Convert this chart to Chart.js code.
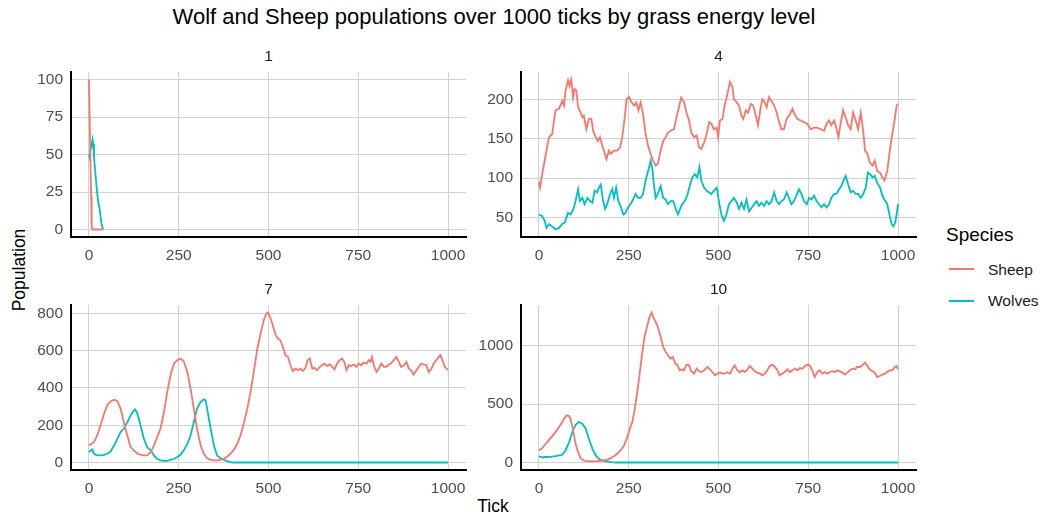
<!DOCTYPE html>
<html>
<head>
<meta charset="utf-8">
<script src="https://cdn.jsdelivr.net/npm/chart.js@4.4.1/dist/chart.umd.min.js"></script>
<style>
  body { margin: 0; background: #fff; font-family: "Liberation Sans", Arial, sans-serif; }
  #wrap { position: relative; width: 1045px; height: 518px; overflow: hidden; background: #fff; }
  #wrap canvas { position: absolute; }
  .txt { position: absolute; white-space: nowrap; line-height: 1; }
</style>
</head>
<body>
<div id="wrap">
  <div class="txt" style="left:494px;top:6px;font-size:22px;color:#000;transform:translateX(-50%)">Wolf and Sheep populations over 1000 ticks by grass energy level</div>
  <div class="txt" style="left:493px;top:498px;font-size:17.5px;color:#000;transform:translateX(-50%)">Tick</div>
  <div class="txt" style="left:20px;top:270px;font-size:17.5px;color:#000;transform:translate(-50%,-50%) rotate(-90deg)">Population</div>
  <div id="legend"></div>
</div>

<script>
// ===== DATA =====
const xTicks = [0, 250, 500, 750, 1000];
const energyLevels = ['1', '4', '7', '10'];
const speciesNames = ['Sheep', 'Wolves'];

// grass energy 1
const g1SheepT = [0, 2, 4, 6, 7, 8, 10, 39];
const g1SheepP = [100, 74, 48, 22, 8, 2, 0, 0];
const g1WolvesT = [0, 2, 4, 7, 10, 12, 14, 17, 20, 23, 26, 29, 32, 35, 38, 40];
const g1WolvesP = [50, 48, 53, 55, 60, 57, 48, 40, 32, 24, 18, 15, 9, 4, 1, 0];
const g1YTicks = [0, 25, 50, 75, 100];

// grass energy 4
const g4SheepT = [0, 3, 9, 19, 28, 37, 42, 46, 56, 65, 70, 74, 81, 85, 90, 95, 99, 104, 109, 116,
  121, 125, 132, 139, 146, 151, 158, 164, 170, 175, 181, 188, 195, 200, 209, 218, 226, 232, 239, 244,
  251, 258, 265, 271, 277, 283, 290, 297, 305, 311, 318, 325, 331, 339, 346, 353, 360, 367, 376, 383,
  390, 396, 404, 411, 418, 424, 432, 439, 446, 452, 460, 467, 474, 480, 487, 495, 499, 504, 511, 517,
  525, 532, 539, 543, 551, 557, 564, 569, 576, 582, 590, 597, 604, 610, 616, 622, 629, 634, 641, 647,
  655, 662, 669, 675, 682, 690, 699, 706, 712, 720, 729, 738, 747, 757, 766, 775, 785, 794, 801, 808,
  814, 822, 828, 834, 840, 847, 854, 861, 868, 875, 882, 889, 896, 903, 908, 915, 921, 929, 935, 942,
  950, 956, 962, 970, 977, 984, 991, 996, 1000];
const g4SheepP = [95, 88, 105, 130, 152, 156, 173, 186, 188, 198, 192, 211, 224, 217, 225, 202, 213, 211, 190, 183,
  177, 179, 162, 175, 175, 160, 152, 147, 152, 143, 135, 124, 135, 131, 135, 135, 139, 152, 177, 200,
  203, 196, 192, 196, 186, 196, 181, 156, 139, 131, 122, 116, 118, 135, 147, 152, 158, 160, 162, 177,
  190, 202, 196, 183, 173, 158, 152, 154, 139, 137, 145, 156, 171, 169, 162, 164, 152, 173, 175, 192,
  207, 222, 215, 200, 196, 192, 179, 175, 186, 183, 194, 192, 179, 167, 186, 200, 196, 190, 203, 198,
  192, 183, 171, 162, 162, 175, 181, 188, 181, 175, 173, 171, 169, 162, 164, 164, 162, 160, 169, 173,
  167, 173, 164, 152, 169, 186, 177, 167, 162, 183, 173, 162, 183, 160, 135, 131, 120, 116, 122, 109,
  107, 101, 97, 109, 135, 156, 175, 192, 194];
const g4WolvesT = [0, 9, 16, 21, 28, 37, 46, 56, 65, 72, 81, 88, 96, 102, 109, 114, 121, 127, 135, 142,
  149, 155, 162, 167, 172, 178, 184, 190, 198, 204, 209, 215, 221, 227, 235, 241, 248, 255, 262, 269,
  276, 283, 290, 297, 304, 311, 316, 320, 325, 331, 339, 346, 353, 359, 367, 374, 381, 387, 393, 399,
  406, 413, 421, 427, 434, 441, 447, 452, 460, 467, 474, 480, 487, 495, 501, 508, 515, 522, 529, 536,
  543, 551, 557, 564, 571, 578, 585, 593, 599, 606, 613, 620, 627, 634, 641, 648, 655, 662, 669, 675,
  682, 690, 696, 703, 710, 717, 724, 731, 738, 746, 752, 759, 766, 773, 780, 787, 794, 801, 808, 814,
  822, 829, 836, 842, 848, 854, 861, 868, 875, 882, 889, 896, 903, 910, 916, 922, 929, 935, 942, 950,
  956, 962, 970, 977, 982, 987, 992, 996, 1000];
const g4WolvesP = [54, 52, 46, 37, 42, 39, 35, 37, 42, 44, 56, 54, 61, 71, 86, 71, 75, 67, 75, 71,
  69, 84, 82, 88, 92, 73, 61, 67, 80, 86, 75, 88, 71, 65, 54, 56, 63, 67, 73, 80,
  75, 75, 80, 97, 109, 122, 111, 92, 75, 80, 90, 75, 73, 67, 71, 71, 61, 54, 61, 67,
  71, 78, 92, 101, 105, 101, 114, 97, 88, 84, 82, 80, 84, 88, 71, 54, 46, 54, 67, 71,
  75, 69, 61, 69, 61, 73, 58, 63, 67, 71, 65, 69, 65, 71, 67, 71, 82, 71, 67, 71,
  73, 82, 75, 67, 71, 78, 86, 80, 71, 67, 75, 73, 78, 71, 67, 63, 67, 63, 67, 75,
  80, 80, 86, 90, 97, 103, 92, 82, 84, 80, 80, 75, 80, 88, 107, 105, 101, 103, 94, 88,
  78, 73, 67, 52, 42, 39, 44, 54, 67];
const g4YTicks = [50, 100, 150, 200];

// grass energy 7
const g7SheepT = [0, 14, 23, 32, 42, 51, 60, 70, 79, 88, 97, 107, 116, 125, 135, 144, 153, 162, 172, 181,
  190, 199, 209, 218, 227, 237, 246, 255, 264, 274, 283, 292, 301, 311, 320, 329, 339, 348, 357, 366,
  376, 385, 394, 404, 413, 422, 431, 441, 450, 459, 469, 478, 487, 494, 499, 506, 513, 520, 526, 533,
  540, 547, 554, 561, 568, 575, 583, 589, 596, 603, 609, 615, 622, 628, 635, 643, 649, 656, 663, 671,
  677, 684, 691, 698, 705, 711, 717, 724, 730, 737, 745, 751, 758, 765, 773, 779, 784, 788, 793, 801,
  807, 814, 821, 828, 835, 841, 849, 856, 863, 869, 877, 884, 891, 897, 904, 912, 918, 925, 932, 940,
  946, 953, 960, 967, 974, 979, 986, 991, 996, 1000];
const g7SheepP = [91, 109, 145, 199, 262, 307, 328, 337, 330, 289, 217, 145, 83, 65, 47, 41, 38, 38, 56, 91,
  136, 181, 271, 378, 468, 531, 549, 558, 543, 486, 396, 289, 181, 91, 47, 23, 14, 11, 11, 14,
  20, 32, 47, 70, 100, 145, 208, 289, 378, 486, 612, 692, 764, 800, 805, 773, 728, 683, 665, 656,
  621, 576, 567, 522, 490, 504, 495, 504, 491, 508, 549, 558, 504, 508, 495, 513, 522, 531, 518, 526,
  513, 500, 531, 549, 558, 540, 495, 522, 518, 526, 513, 531, 522, 536, 531, 549, 540, 567, 522, 486,
  504, 531, 513, 513, 526, 531, 549, 567, 540, 513, 522, 540, 504, 495, 472, 495, 513, 531, 526, 522,
  486, 500, 531, 549, 567, 576, 540, 513, 504, 495];
const g7WolvesT = [0, 5, 9, 14, 23, 32, 42, 51, 60, 70, 79, 88, 97, 107, 116, 123, 128, 133, 139, 146,
  153, 162, 172, 181, 190, 199, 209, 218, 227, 237, 246, 255, 264, 274, 283, 292, 301, 311, 320, 325,
  329, 339, 348, 357, 366, 376, 385, 394, 404, 1000];
const g7WolvesP = [56, 65, 70, 47, 38, 38, 41, 47, 59, 91, 127, 163, 181, 217, 253, 274, 285, 271, 235, 181,
  127, 83, 65, 38, 20, 11, 9, 9, 14, 20, 29, 41, 65, 100, 145, 217, 289, 325, 339, 334,
  289, 181, 91, 38, 23, 14, 7, 2, 0, 0];
const g7YTicks = [0, 200, 400, 600, 800];

// grass energy 10
const g10SheepT = [0, 9, 19, 28, 37, 46, 56, 65, 71, 77, 84, 88, 96, 102, 109, 116, 125, 135, 149, 162,
  176, 190, 200, 209, 218, 227, 237, 246, 253, 260, 266, 274, 281, 288, 294, 302, 308, 314, 318, 325,
  331, 339, 346, 353, 359, 367, 373, 380, 385, 392, 398, 404, 411, 418, 424, 432, 439, 446, 452, 460,
  469, 476, 483, 490, 497, 504, 511, 518, 525, 532, 539, 545, 552, 560, 566, 573, 580, 588, 594, 601,
  608, 616, 622, 629, 636, 643, 650, 657, 664, 670, 678, 684, 692, 699, 706, 713, 720, 727, 734, 741,
  747, 754, 761, 768, 775, 782, 789, 796, 803, 811, 817, 825, 831, 838, 845, 852, 859, 866, 873, 880,
  886, 894, 901, 908, 915, 921, 929, 935, 942, 949, 956, 964, 970, 978, 984, 991, 996, 1000];
const g10SheepP = [103, 123, 160, 194, 226, 260, 303, 346, 380, 403, 397, 374, 260, 160, 89, 37, 17, 11, 9, 11,
  17, 23, 37, 54, 74, 103, 146, 217, 289, 346, 446, 603, 774, 946, 1074, 1174, 1246, 1283, 1246, 1203,
  1160, 1074, 989, 946, 917, 889, 903, 846, 837, 789, 797, 789, 837, 831, 780, 760, 803, 780, 774, 789,
  817, 797, 774, 746, 760, 769, 760, 760, 774, 760, 803, 831, 789, 769, 789, 774, 797, 826, 803, 780,
  769, 760, 746, 760, 789, 826, 837, 817, 789, 746, 760, 774, 797, 774, 789, 803, 789, 809, 803, 826,
  837, 831, 789, 731, 774, 789, 760, 774, 760, 774, 780, 774, 789, 780, 769, 751, 769, 789, 803, 797,
  817, 817, 831, 854, 826, 797, 780, 769, 731, 740, 751, 760, 774, 789, 789, 817, 826, 797];
const g10WolvesT = [0, 9, 19, 28, 37, 46, 56, 65, 74, 84, 93, 102, 111, 121, 130, 139, 149, 158, 167, 176,
  186, 200, 214, 1000];
const g10WolvesP = [54, 43, 49, 46, 51, 54, 60, 66, 103, 174, 260, 323, 346, 331, 289, 203, 117, 60, 31, 17,
  9, 3, 0, 0];
const g10YTicks = [0, 500, 1000];

// ===== STYLE / LAYOUT =====
const COLORS = { Sheep: '#F8766D', Wolves: '#00BFC4' };
const GRID = '#d2d2d2';
const FONT = '"Liberation Sans", Arial, sans-serif';
const AREA_W = 395, AREA_H = 165;
// top padding must exceed the y axis' own label padding (half label height + tick padding)
const Y_AXIS_W = 45, X_AXIS_H = 35, PAD_T = 20, PAD_R = 12;

Chart.defaults.font.family = FONT;

const panels = [
  { level: energyLevels[0], left: 71,  top: 72,  series: [[g1SheepT, g1SheepP], [g1WolvesT, g1WolvesP]], yTicks: g1YTicks },
  { level: energyLevels[1], left: 521, top: 72,  series: [[g4SheepT, g4SheepP], [g4WolvesT, g4WolvesP]], yTicks: g4YTicks },
  { level: energyLevels[2], left: 71,  top: 305, series: [[g7SheepT, g7SheepP], [g7WolvesT, g7WolvesP]], yTicks: g7YTicks },
  { level: energyLevels[3], left: 521, top: 305, series: [[g10SheepT, g10SheepP], [g10WolvesT, g10WolvesP]], yTicks: g10YTicks },
];

const wrap = document.getElementById('wrap');

function toPoints(t, p) {
  return t.map((x, i) => ({ x: x, y: p[i] }));
}

// ggplot style 5% expansion
function expand(min, max) {
  const d = (max - min) * 0.05;
  return [min - d, max + d];
}

panels.forEach(pn => {
  const cv = document.createElement('canvas');
  cv.width = Y_AXIS_W + AREA_W + PAD_R;
  cv.height = PAD_T + AREA_H + X_AXIS_H;
  cv.style.left = (pn.left - Y_AXIS_W) + 'px';
  cv.style.top = (pn.top - PAD_T) + 'px';
  wrap.appendChild(cv);

  const allY = pn.series[0][1].concat(pn.series[1][1]);
  const [ymin, ymax] = expand(Math.min(...allY), Math.max(...allY));

  new Chart(cv, {
    type: 'line',
    data: {
      datasets: pn.series.map((s, i) => ({
        label: speciesNames[i],
        data: toPoints(s[0], s[1]),
        borderColor: COLORS[speciesNames[i]],
        borderWidth: 1.8,
        pointRadius: 0,
        tension: 0,
        fill: false
      }))
    },
    options: {
      responsive: false,
      animation: false,
      devicePixelRatio: 1,
      layout: { padding: { top: PAD_T, right: PAD_R, left: 0, bottom: 0 } },
      plugins: { legend: { display: false }, tooltip: { enabled: false } },
      scales: {
        x: {
          type: 'linear',
          min: -50,
          max: 1050,
          afterBuildTicks: ax => { ax.ticks = xTicks.map(v => ({ value: v })); },
          afterFit: ax => { ax.height = X_AXIS_H; },
          grid: { color: GRID, lineWidth: 1, drawTicks: false },
          border: { display: true, color: '#000', width: 2 },
          ticks: { color: '#4d4d4d', font: { size: 15.5 }, padding: 9, maxRotation: 0, autoSkip: false, callback: v => String(v) }
        },
        y: {
          type: 'linear',
          min: ymin,
          max: ymax,
          afterBuildTicks: ax => { ax.ticks = pn.yTicks.map(v => ({ value: v })); },
          afterFit: ax => { ax.width = Y_AXIS_W; },
          grid: { color: GRID, lineWidth: 1, drawTicks: false },
          border: { display: true, color: '#000', width: 2 },
          ticks: { color: '#4d4d4d', font: { size: 15.5 }, padding: 8, autoSkip: false, callback: v => String(v) }
        }
      }
    }
  });

  // strip label
  const st = document.createElement('div');
  st.className = 'txt';
  st.textContent = pn.level;
  st.style.cssText = `left:${pn.left + AREA_W / 2}px;top:${pn.top - 24.3}px;font-size:15.5px;color:#1a1a1a;transform:translateX(-50%)`;
  wrap.appendChild(st);
});

// ===== LEGEND =====
const legend = document.getElementById('legend');
legend.innerHTML = `<div class="txt" style="left:946px;top:224.5px;font-size:19px;color:#000">Species</div>` +
  speciesNames.map((name, i) => {
    const y = 269.3 + i * 31.4;
    return `<div style="position:absolute;left:949px;top:${y - 1}px;width:25px;height:2px;background:${COLORS[name]}"></div>
      <div class="txt" style="left:988px;top:${y - 7.8}px;font-size:15.5px;color:#1a1a1a">${name}</div>`;
  }).join('');
</script>
</body>
</html>
